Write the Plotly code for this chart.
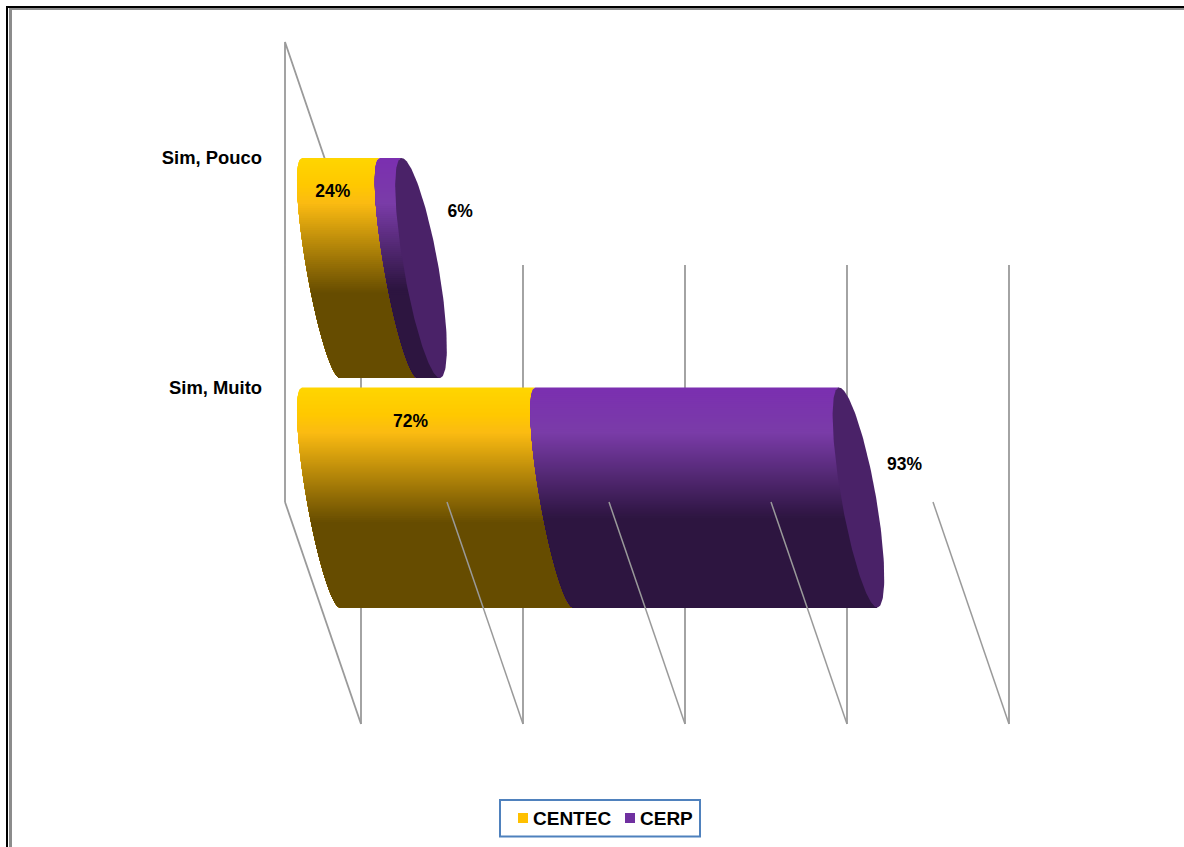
import numpy as np
import plotly.graph_objects as go

# ---- data ----
categories = ["Sim, Muito", "Sim, Pouco"]
centec = [72, 24]
cerp = [93, 6]
series_names = ["CENTEC", "CERP"]
series_colors = ["#FFC000", "#7030A0"]
grid_values = [0, 50, 100, 150, 200]

# ---- style ----
GOLD_STOPS = [(0.0, "#FFD500"), (0.12, "#FFC800"), (0.2, "#FBBB12"), (0.61, "#664C00"), (1.0, "#664C00")]
PURPLE_STOPS = [(0.0, "#7B2FB0"), (0.2, "#7A3CA8"), (0.59, "#2D1540"), (1.0, "#2D1540")]
CAP = "#4A2268"
GRID = "#9A9A9A"
FONT = "Liberation Sans"

# ---- pseudo-3D projection (pixel scale of the axes) ----
W, H = 1184, 847
PLOT_L, PLOT_R = 263, 1100
PX_PER_PCT = 3.24
X0_PX = 285.0            # value 0 on the back wall
Y_MUITO_PX = 497.5       # centre of first band
BAND_PX = 229.5
DEPTH_PCT = 76 / PX_PER_PCT
BAR_START = 17 / PX_PER_PCT
BAR_SHEAR = 38 / PX_PER_PCT
BAR_BULGE = 14.7 / PX_PER_PCT
CAP_BULGE_R = 18 / PX_PER_PCT
CAP_BULGE_L = 17 / PX_PER_PCT
END_EXTRA = 2.5 / PX_PER_PCT
BAR_HALF = 110 / BAND_PX

x_range = [(PLOT_L - X0_PX) / PX_PER_PCT, (PLOT_R - X0_PX) / PX_PER_PCT]
y_range = [(Y_MUITO_PX - H) / BAND_PX, Y_MUITO_PX / BAND_PX]
# grid heights on the walls, in band units
BACK_TOP, BACK_BOT = (Y_MUITO_PX - 42) / BAND_PX, (Y_MUITO_PX - 502) / BAND_PX
FRONT_TOP, FRONT_BOT = (Y_MUITO_PX - 265) / BAND_PX, (Y_MUITO_PX - 724) / BAND_PX


def colour_at(stops, f):
    fs = [s[0] for s in stops]
    rgb = [[int(s[1][i:i + 2], 16) for s in stops] for i in (1, 3, 5)]
    return "rgb(%d,%d,%d)" % tuple(round(float(np.interp(f, fs, c))) for c in rgb)


def curve(value, band, theta):
    """Point on the visible (left) half of the cylinder's elliptical section."""
    s = np.sin(theta)
    x = value + BAR_START + BAR_SHEAR * (1 + s) / 2 - BAR_BULGE * np.cos(theta)
    y = band + BAR_HALF - BAR_HALF * (1 + s)
    return x, y


fig = go.Figure()

# walls behind the bars
wall_x, wall_y = [0, 0, DEPTH_PCT, None, 0, DEPTH_PCT], [BACK_BOT, BACK_TOP, FRONT_TOP, None, BACK_BOT, FRONT_BOT]
for v in grid_values:
    wall_x += [None, v + DEPTH_PCT, v + DEPTH_PCT]
    wall_y += [None, FRONT_TOP, FRONT_BOT]
fig.add_trace(go.Scatter(x=wall_x, y=wall_y, mode="lines", line=dict(color=GRID, width=1.8),
                         hoverinfo="skip", showlegend=False))


def add_segment(start, end, band, stops, name):
    n = 68
    for k in range(n + 1):
        f = 0.62 * k / n
        th0 = np.arcsin(2 * f - 1)
        theta = np.linspace(th0, np.pi / 2, 40)
        xa, ya = curve(start, band, theta)
        xb, yb = curve(end, band, theta)
        fig.add_trace(go.Scatter(
            x=np.r_[xa, xb[::-1]], y=np.r_[ya, yb[::-1]], mode="lines", fill="toself",
            fillcolor=colour_at(stops, f), line=dict(width=0), hoverinfo="skip",
            showlegend=False, name=name))


for band, (cat, a, b) in enumerate(zip(categories, centec, cerp)):
    end = a + b + END_EXTRA
    add_segment(0, a, band, GOLD_STOPS, series_names[0])
    add_segment(a, end, band, PURPLE_STOPS, series_names[1])
    theta = np.linspace(0, 2 * np.pi, 200)
    s, c = np.sin(theta), np.cos(theta)
    cap_x = end + BAR_START + BAR_SHEAR * (1 + s) / 2 + np.where(c > 0, CAP_BULGE_R, CAP_BULGE_L) * c
    cap_y = band + BAR_HALF - BAR_HALF * (1 + s)
    fig.add_trace(go.Scatter(x=cap_x, y=cap_y, mode="lines", fill="toself", fillcolor=CAP,
                             line=dict(width=0), hoverinfo="skip", showlegend=False))

# floor lines drawn over the bars
floor_x, floor_y = [], []
for v in grid_values[1:]:
    floor_x += [v, v + DEPTH_PCT, None]
    floor_y += [BACK_BOT, FRONT_BOT, None]
fig.add_trace(go.Scatter(x=floor_x, y=floor_y, mode="lines", line=dict(color=GRID, width=1.5),
                         hoverinfo="skip", showlegend=False))

# value labels
label_font = dict(family=FONT, size=17.5, color="black")
centec_dx = [-8, -8]
centec_dy = [35, 35]
cerp_dx = [68, 61]
cerp_dy = [78, 55]
txt_x, txt_y, txt = [], [], []
for band, (a, b) in enumerate(zip(centec, cerp)):
    txt_x += [BAR_START + a / 2 + centec_dx[band] / PX_PER_PCT,
              BAR_START + a + b + cerp_dx[band] / PX_PER_PCT]
    top = band + BAR_HALF
    txt_y += [top - centec_dy[band] / BAND_PX, top - cerp_dy[band] / BAND_PX]
    txt += [f"<b>{a}%</b>", f"<b>{b}%</b>"]
fig.add_trace(go.Scatter(x=txt_x, y=txt_y, text=txt, mode="text", textposition="middle center",
                         textfont=label_font, hoverinfo="skip", showlegend=False))


def px_x(p):
    return (p - PLOT_L) / (PLOT_R - PLOT_L)


def px_y(p):
    return 1 - p / H


# outer frame of the picture
frame = [
    (6, 7, W, 7, "black", 2), (7, 6, 7, H, "black", 2),
    (9, 9, W, 9, "#8C8C8C", 2), (10.5, 8, 10.5, H, "#8C8C8C", 3),
]
shapes = [dict(type="line", xref="paper", yref="paper", x0=px_x(a), y0=px_y(b), x1=px_x(c), y1=px_y(d),
               line=dict(color=col, width=wd), layer="below") for a, b, c, d, col, wd in frame]

# legend box laid out as in the picture
LEG_BOX = (500, 800, 700, 836.5)
LEG_SWATCH_X = [518, 625]
LEG_TEXT_X = [533, 640]
LEG_SWATCH_Y = (813, 823)
shapes.append(dict(type="rect", xref="paper", yref="paper", x0=px_x(LEG_BOX[0]), x1=px_x(LEG_BOX[2]),
                   y0=px_y(LEG_BOX[1]), y1=px_y(LEG_BOX[3]), fillcolor="white",
                   line=dict(color="#4F81BD", width=2)))
annotations = []
for name, col, sx, tx in zip(series_names, series_colors, LEG_SWATCH_X, LEG_TEXT_X):
    shapes.append(dict(type="rect", xref="paper", yref="paper", x0=px_x(sx), x1=px_x(sx + 10),
                       y0=px_y(LEG_SWATCH_Y[0]), y1=px_y(LEG_SWATCH_Y[1]), fillcolor=col, line=dict(width=0)))
    annotations.append(dict(xref="paper", yref="paper", x=px_x(tx), y=px_y(818.5), xanchor="left", yanchor="middle",
                            text=f"<b>{name}</b>", showarrow=False, borderpad=0, borderwidth=0,
                            font=dict(family=FONT, size=19, color="black")))

fig.update_layout(
    width=W, height=H, margin=dict(l=PLOT_L, r=W - PLOT_R, t=0, b=0, pad=0),
    paper_bgcolor="white", plot_bgcolor="rgba(0,0,0,0)", shapes=shapes, annotations=annotations,
    font=dict(family=FONT, color="black"), showlegend=False,
    xaxis=dict(range=x_range, visible=False, fixedrange=True),
    yaxis=dict(range=y_range, fixedrange=True, showgrid=False, zeroline=False, showline=False, ticks="",
               tickmode="array", tickvals=[i + BAR_HALF for i in range(len(categories))],
               ticktext=[f"<b>{c}</b>" for c in categories], tickfont=dict(family=FONT, size=18.4, color="black")),
    hovermode=False,
)

fig.write_html("out.html", config=dict(displayModeBar=False),
               post_script="document.body.style.margin='0';document.body.style.overflow='hidden';")
